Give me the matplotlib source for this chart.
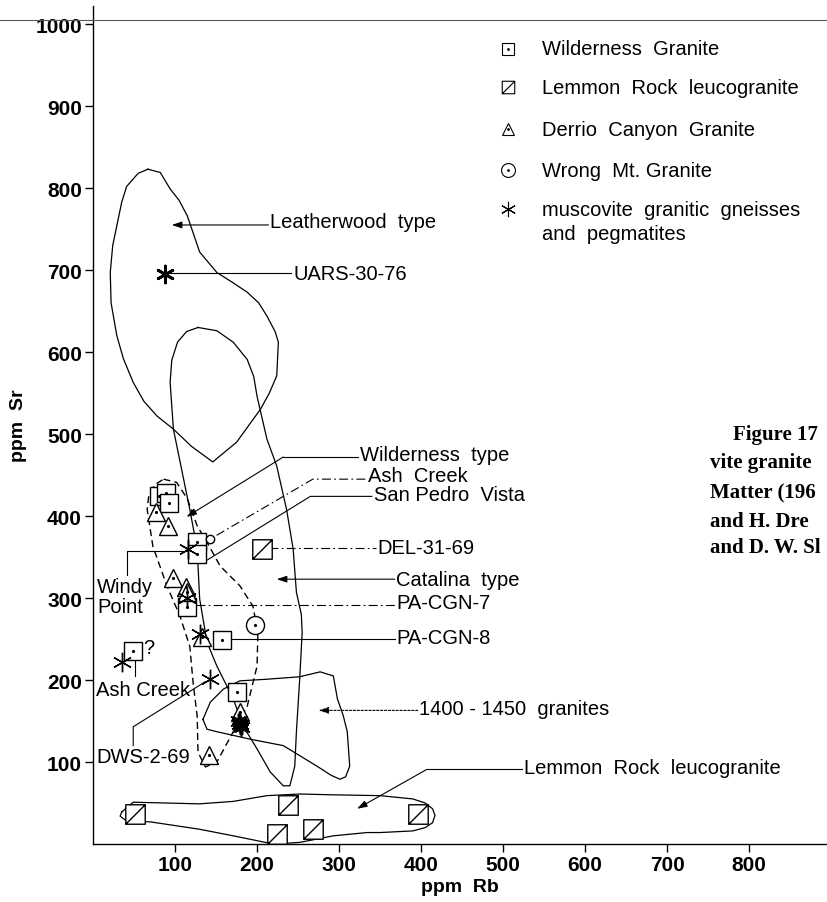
import matplotlib
matplotlib.use("Agg")
import matplotlib.pyplot as plt
from matplotlib.path import Path
from matplotlib.lines import Line2D

plt.rcParams['font.family'] = ['Liberation Sans', 'DejaVu Sans']

# ---- envelopes (Rb, Sr) ----
leather_rb = [67, 82, 94, 105, 115, 130, 151, 170, 188, 202, 212, 222, 226, 224, 215, 204, 175, 146, 120, 98, 78, 62, 49, 37, 29, 22, 21, 24, 29, 35, 41, 55, 67]
leather_sr = [823, 819, 799, 785, 766, 722, 697, 685, 673, 660, 644, 625, 612, 571, 550, 530, 490, 466, 485, 506, 522, 540, 563, 592, 620, 660, 697, 730, 754, 783, 802, 818, 823]

catalina_rb = [128, 151, 171, 188, 196, 200, 212, 224, 236, 244, 248, 254, 255, 252, 248, 246, 240, 232, 216, 200, 183, 171, 151, 139, 130, 127, 118, 98, 94, 96, 103, 114, 128]
catalina_sr = [630, 626, 612, 591, 570, 546, 494, 461, 408, 360, 307, 280, 258, 201, 137, 95, 71, 71, 88, 116, 144, 177, 217, 246, 299, 360, 408, 506, 563, 590, 612, 625, 630]

wild_rb = [86, 102, 115, 127, 139, 155, 179, 195, 201, 200, 188, 171, 151, 137, 128, 127, 122, 118, 106, 90, 73, 66, 68, 75, 86]
wild_sr = [445, 441, 421, 388, 368, 339, 315, 290, 258, 217, 168, 137, 100, 94, 112, 156, 197, 241, 278, 315, 363, 408, 425, 438, 445]

g1400_rb = [134, 143, 159, 179, 212, 252, 277, 293, 298, 305, 310, 313, 308, 301, 290, 273, 232, 191, 151, 139, 134]
g1400_sr = [152, 173, 189, 199, 201, 204, 210, 205, 177, 157, 137, 95, 82, 79, 84, 95, 120, 128, 137, 140, 152]

lemmon_rb = [35, 49, 90, 130, 171, 212, 252, 293, 350, 390, 405, 414, 417, 414, 405, 390, 350, 334, 293, 252, 220, 171, 130, 70, 41, 33, 35]
lemmon_sr = [39, 51, 50, 49, 52, 59, 61, 60, 59, 55, 50, 43, 35, 26, 20, 16, 14, 14, 10, 2, 0, 10, 18, 27, 28, 34, 39]

# ---- samples ----
wilderness_rb = [80, 89, 93, 127, 127, 114, 157, 49, 176]
wilderness_sr = [425, 428, 416, 368, 354, 289, 249, 236, 185]

lemmon_pts_rb = [51, 206, 238, 224, 268, 396]
lemmon_pts_sr = [37, 360, 48, 12, 18, 37]

derrio_rb = [77, 91, 98, 113, 114, 133, 179, 142]
derrio_sr = [405, 388, 325, 313, 307, 253, 161, 109]

wrong_rb = [197]
wrong_sr = [267]

musc_rb = [88, 116, 114, 131, 35, 143, 178, 181, 179]
musc_sr = [695, 360, 300, 256, 222, 201, 150, 143, 146]

legend_labels = ['Wilderness  Granite', 'Lemmon  Rock  leucogranite', 'Derrio  Canyon  Granite',
                 'Wrong  Mt. Granite', 'muscovite  granitic  gneisses', 'and  pegmatites']
legend_sr = [970, 923, 872, 822, 774, 744]

# caption lines as far as they show before the page edge
caption = ['Figure 17', 'vite granite', 'Matter (196', 'and H. Dre', 'and D. W. Sl']

yticks = [100, 200, 300, 400, 500, 600, 700, 800, 900, 1000]
xticks = [100, 200, 300, 400, 500, 600, 700, 800]

fig = plt.figure(figsize=(8.27, 9.03), dpi=100)
ax = fig.add_axes([0.1125, 0.0642, 0.8875, 0.928])
ax.set_xlim(0, 895)
ax.set_ylim(0, 1022)
for s in ['top', 'right']:
    ax.spines[s].set_visible(False)
ax.spines['left'].set_linewidth(1.0)
ax.spines['bottom'].set_linewidth(1.0)
ax.set_yticks(yticks)
ax.set_xticks(xticks)
ax.tick_params(direction='out', length=6, width=1, pad=2, labelsize=15)
for lab in ax.get_xticklabels() + ax.get_yticklabels():
    lab.set_fontweight('bold')
ax.set_xlabel('ppm  Rb', fontsize=14, fontweight='bold', labelpad=3)
ax.set_ylabel('ppm  Sr', fontsize=14, fontweight='bold', labelpad=6)

# line along the top of the plate
fig.add_artist(Line2D([0, 1], [0.9767, 0.9767], color='0.35', lw=0.8))

# envelopes
ax.plot(leather_rb, leather_sr, color='k', lw=0.9)
ax.plot(catalina_rb, catalina_sr, color='k', lw=0.9)
ax.plot(wild_rb, wild_sr, color='k', lw=1.0, ls=(0, (5, 3)))
ax.plot(g1400_rb, g1400_sr, color='k', lw=0.9)
ax.plot(lemmon_rb, lemmon_sr, color='k', lw=0.9)


def leader(xs, ys, ls='-', arrow=False):
    if arrow:
        ax.plot(xs[:-1], ys[:-1], color='k', lw=0.8, ls=ls)
        ax.annotate('', xy=(xs[-1], ys[-1]), xytext=(xs[-2], ys[-2]),
                    arrowprops=dict(arrowstyle='-|>,head_length=0.6,head_width=0.2',
                                    color='k', lw=0.8, linestyle=ls, shrinkA=0, shrinkB=0))
    else:
        ax.plot(xs, ys, color='k', lw=0.8, ls=ls)


dashdot = (0, (8, 3, 1.5, 3))
leader([214, 96], [755, 755], arrow=True)
leader([242, 88], [696, 696])
leader([323, 232, 114], [472, 472, 399], arrow=True)
leader([332, 268, 143], [445, 445, 372], ls=dashdot)
leader([340, 265, 137], [424, 424, 345])
leader([215, 345], [361, 361], ls=dashdot)
leader([368, 224], [323, 323], arrow=True)
leader([125, 368], [292, 292], ls=dashdot)
leader([165, 368], [250, 250])
leader([396, 275], [163, 163], ls=(0, (2, 1.5)), arrow=True)
leader([523, 407, 322], [91, 91, 43], arrow=True)
leader([116, 41, 41], [357, 357, 328])
leader([51, 51], [226, 205])
leader([49, 49, 137], [120, 143, 198])

fs = 14.5
txt = dict(fontsize=fs, va='center', ha='left')
ax.text(216, 759, 'Leatherwood  type', **txt)
ax.text(244, 696, 'UARS-30-76', **txt)
ax.text(326, 475, 'Wilderness  type', **txt)
ax.text(335, 450, 'Ash  Creek', **txt)
ax.text(342, 426, 'San Pedro  Vista', **txt)
ax.text(347, 362, 'DEL-31-69', **txt)
ax.text(370, 323, 'Catalina  type', **txt)
ax.text(370, 294, 'PA-CGN-7', **txt)
ax.text(370, 252, 'PA-CGN-8', **txt)
ax.text(398, 165, '1400 - 1450  granites', **txt)
ax.text(525, 93, 'Lemmon  Rock  leucogranite', **txt)
ax.text(5, 302, 'Windy\nPoint', fontsize=fs, va='center', ha='left', linespacing=1.05)
ax.text(4, 189, 'Ash Creek', **txt)
ax.text(4, 107, 'DWS-2-69', **txt)
ax.text(61, 240, '?', **txt)

# sample symbols
ms = 13
sq_diag = Path([(-1, -1), (1, -1), (1, 1), (-1, 1), (-1, -1), (-1, -1), (1, 1)],
               [Path.MOVETO, Path.LINETO, Path.LINETO, Path.LINETO, Path.CLOSEPOLY,
                Path.MOVETO, Path.LINETO])
face = dict(mfc='white', mec='k', mew=1.0, ls='none', zorder=5)
dot = dict(marker='.', ms=2.5, color='k', ls='none', zorder=6)

ax.plot(wilderness_rb, wilderness_sr, marker='s', ms=ms, **face)
ax.plot(wilderness_rb, wilderness_sr, **dot)
ax.plot(lemmon_pts_rb, lemmon_pts_sr, marker=sq_diag, ms=ms + 1, **face)
ax.plot(derrio_rb, derrio_sr, marker='^', ms=ms, **face)
ax.plot(derrio_rb, derrio_sr, **dot)
ax.plot(wrong_rb, wrong_sr, marker='o', ms=ms, **face)
ax.plot(wrong_rb, wrong_sr, **dot)
ax.plot([143], [372], marker='o', ms=6, **face)
ax.plot(musc_rb, musc_sr, marker=(6, 2, 0), ms=14, color='k', mew=1.0, ls='none', zorder=7)
ax.plot(musc_rb[-3:], musc_sr[-3:], marker=(6, 2, 0), ms=11, color='k', mew=2.5, ls='none', zorder=7)
ax.plot([88], [695], marker=(6, 2, 0), ms=13, color='k', mew=2.0, ls='none', zorder=7)

# legend drawn in place
lx, tx = 506, 548
leg_face = dict(mfc='white', mec='k', mew=0.8, ls='none')
ax.plot([lx], [legend_sr[0]], marker='s', ms=9, **leg_face)
ax.plot([lx], [legend_sr[0]], marker='.', ms=2, color='k', ls='none')
ax.plot([lx], [legend_sr[1]], marker=sq_diag, ms=9, **leg_face)
ax.plot([lx], [legend_sr[2]], marker='^', ms=9, **leg_face)
ax.plot([lx], [legend_sr[2]], marker='.', ms=2, color='k', ls='none')
ax.plot([lx], [legend_sr[3]], marker='o', ms=10, **leg_face)
ax.plot([lx], [legend_sr[3]], marker='.', ms=2, color='k', ls='none')
ax.plot([lx], [legend_sr[4]], marker=(6, 2, 0), ms=11, color='k', mew=0.8, ls='none')
for lab, y in zip(legend_labels, legend_sr):
    ax.text(tx, y, lab, fontsize=fs, va='center', ha='left')

# caption at the right edge
cap_xy = [(733, 435), (710, 463), (710, 493), (710, 522), (710, 548)]
for c, (px, py) in zip(caption, cap_xy):
    fig.text(px / 827, 1 - py / 903, c, fontsize=15, fontweight='bold',
             family='Liberation Serif', va='center', ha='left')

fig.savefig('out.png', dpi=100)
